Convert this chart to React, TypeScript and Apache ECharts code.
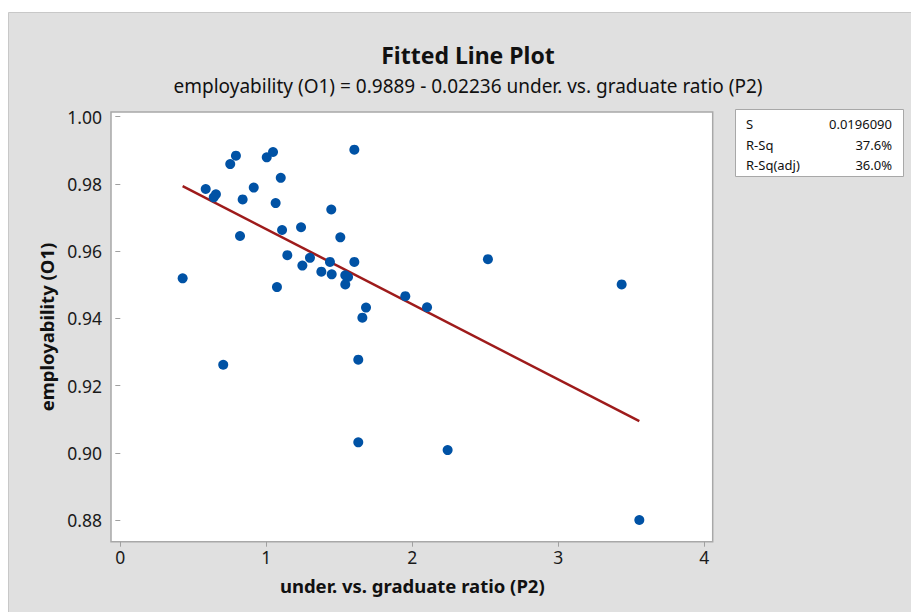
import React, { useEffect, useRef } from "react";
import * as echarts from "echarts";

// Data (under. vs. graduate ratio, employability)
const ratioX: number[] = [
  0.427, 0.585, 0.655, 0.640, 0.753, 0.792, 0.838, 0.820, 0.914, 1.003,
  1.046, 1.099, 1.064, 1.108, 1.073, 1.144, 1.238, 1.247, 1.299, 1.377,
  1.445, 1.448, 1.436, 1.507, 1.541, 1.560, 1.541, 1.603, 1.603, 1.683,
  1.658, 1.952, 0.705, 1.630, 1.630, 2.518, 2.101, 3.434, 2.242, 3.555,
];
const employY: number[] = [
  0.9519, 0.9785, 0.9769, 0.9760, 0.9859, 0.9884, 0.9754, 0.9645, 0.9789, 0.9879,
  0.9895, 0.9818, 0.9743, 0.9663, 0.9493, 0.9588, 0.9671, 0.9557, 0.9580, 0.9539,
  0.9724, 0.9531, 0.9568, 0.9641, 0.9528, 0.9523, 0.9501, 0.9568, 0.9902, 0.9432,
  0.9402, 0.9466, 0.9262, 0.9277, 0.9031, 0.9576, 0.9433, 0.9501, 0.9008, 0.8800,
];
const intercept = 0.9889;
const slope = -0.02236;
const xTicks = [0, 1, 2, 3, 4];
const yTicks = [0.88, 0.9, 0.92, 0.94, 0.96, 0.98, 1.0];
const statLabels = ["S", "R-Sq", "R-Sq(adj)"];
const statValues = ["0.0196090", "37.6%", "36.0%"];

const FONT = "'Noto Sans', 'Open Sans', sans-serif";

export default function App() {
  const ref = useRef<HTMLDivElement>(null);
  useEffect(() => {
    if (!ref.current) return;
    const chart = echarts.init(ref.current, null, { renderer: "svg" });
    const pts = ratioX.map((x, i) => [x, employY[i]]);
    const xMin = Math.min(...ratioX);
    const xMax = Math.max(...ratioX);
    const fitLine = [
      [xMin, intercept + slope * xMin],
      [xMax, intercept + slope * xMax],
    ];

    const gridLeft = 120.3;
    const gridRight = 911 - 704.3;
    const gridTop = 116.7;
    const gridBottom = 612 - 520;

    const statTexts: any[] = [];
    statLabels.forEach((l, i) => {
      statTexts.push({
        type: "text",
        x: 746,
        y: 124 + i * 20.5,
        style: { text: l, fontFamily: FONT, fontSize: 13, fill: "#111", textAlign: "left", textVerticalAlign: "middle" },
      });
      statTexts.push({
        type: "text",
        x: 892,
        y: 124 + i * 20.5,
        style: { text: statValues[i], fontFamily: FONT, fontSize: 13, fill: "#111", textAlign: "right", textVerticalAlign: "middle" },
      });
    });

    chart.setOption({
      animation: false,
      backgroundColor: "#ffffff",
      textStyle: { fontFamily: FONT },
      title: [
        {
          text: "Fitted Line Plot",
          left: 463,
          top: 38,
          textAlign: "center",
          textStyle: { fontFamily: FONT, fontSize: 23, fontWeight: "bold", color: "#111" },
        },
        {
          text: "employability (O1) = 0.9889 - 0.02236 under. vs. graduate ratio (P2)",
          left: 463,
          top: 71,
          textAlign: "center",
          textStyle: { fontFamily: FONT, fontSize: 19, fontWeight: "normal", color: "#111" },
        },
      ],
      graphic: [
        {
          type: "rect",
          z: -10,
          silent: true,
          shape: { x: 8.5, y: 12.5, width: 920, height: 620 },
          style: { fill: "#e0e0e0", stroke: "#c8c8c8", lineWidth: 1 },
        },
        {
          type: "rect",
          z: -5,
          silent: true,
          shape: { x: 111, y: 112, width: 601.7, height: 429.7 },
          style: { fill: "#ffffff", stroke: "#a8a8a8", lineWidth: 1.5 },
        },
        {
          type: "rect",
          silent: true,
          shape: { x: 735.5, y: 109.5, width: 168, height: 67 },
          style: { fill: "#ffffff", stroke: "#a8a8a8", lineWidth: 1 },
        },
        {
          type: "text",
          x: 46,
          y: 327,
          rotation: Math.PI / 2,
          style: {
            text: "employability (O1)",
            fontFamily: FONT,
            fontSize: 18.5,
            fontWeight: "bold",
            fill: "#111",
            textAlign: "center",
            textVerticalAlign: "middle",
          },
        },
        ...statTexts,
      ],
      grid: { left: gridLeft, right: gridRight, top: gridTop, bottom: gridBottom, containLabel: false },
      xAxis: {
        type: "value",
        min: xTicks[0],
        max: xTicks[xTicks.length - 1],
        interval: 1,
        offset: 21.7,
        name: "under. vs. graduate ratio (P2)",
        nameLocation: "middle",
        nameGap: 34,
        nameTextStyle: { fontFamily: FONT, fontSize: 18.5, fontWeight: "bold", color: "#111" },
        axisLine: { show: false },
        axisTick: { show: true, length: 5, lineStyle: { color: "#a0a0a0" } },
        axisLabel: { fontFamily: FONT, fontSize: 17.5, color: "#1a1a1a", margin: 6 },
        splitLine: { show: false },
      },
      yAxis: {
        type: "value",
        min: yTicks[0],
        max: yTicks[yTicks.length - 1],
        interval: 0.02,
        offset: 9.3,
        axisLine: { show: false },
        axisTick: { show: true, length: 5, lineStyle: { color: "#a0a0a0" } },
        axisLabel: {
          fontFamily: FONT,
          fontSize: 17.5,
          color: "#1a1a1a",
          margin: 9,
          formatter: (v: number) => v.toFixed(2),
        },
        splitLine: { show: false },
      },
      series: [
        {
          type: "line",
          data: fitLine,
          showSymbol: false,
          symbol: "none",
          lineStyle: { color: "#9e1b1b", width: 2.5 },
          clip: false,
          z: 2,
        },
        {
          type: "scatter",
          data: pts,
          symbol: "circle",
          symbolSize: 10,
          itemStyle: { color: "#0052a5", opacity: 1 },
          clip: false,
          z: 3,
        },
      ],
    });
    return () => chart.dispose();
  }, []);
  return (
    <div
      ref={ref}
      style={{ position: "fixed", left: 0, top: 0, width: 911, height: 612 }}
    />
  );
}
